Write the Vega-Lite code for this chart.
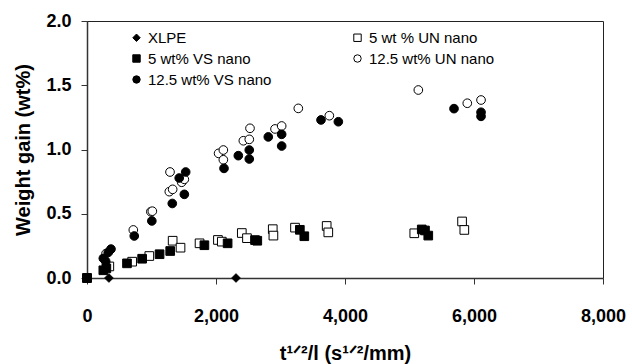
{
  "$schema": "https://vega.github.io/schema/vega-lite/v6.json",
  "autosize": "none",
  "width": 516,
  "height": 257,
  "padding": {"left": 87, "top": 21, "right": 29, "bottom": 86},
  "background": "white",
  "config": {
    "view": {"stroke": "#222", "strokeWidth": 1},
    "font": "Liberation Sans",
    "legend": {
      "title": null,
      "orient": "none",
      "legendX": 42,
      "legendY": 9,
      "columns": 2,
      "columnPadding": 76,
      "rowPadding": 5,
      "padding": 0,
      "gridAlign": "all",
      "labelFont": "Liberation Sans",
      "labelFontSize": 15,
      "labelColor": "black",
      "labelOffset": 4,
      "symbolSize": 55,
      "symbolStrokeWidth": 1
    }
  },
  "data": {
    "values": [
      {"series": "XLPE", "x": 0, "y": 0},
      {"series": "XLPE", "x": 340, "y": 0},
      {"series": "XLPE", "x": 2310, "y": 0},

      {"series": "5 wt % UN nano", "x": 0, "y": 0},
      {"series": "5 wt % UN nano", "x": 346, "y": 0.09},
      {"series": "5 wt % UN nano", "x": 700, "y": 0.127},
      {"series": "5 wt % UN nano", "x": 966, "y": 0.171},
      {"series": "5 wt % UN nano", "x": 1328, "y": 0.29},
      {"series": "5 wt % UN nano", "x": 1450, "y": 0.236},
      {"series": "5 wt % UN nano", "x": 1745, "y": 0.27},
      {"series": "5 wt % UN nano", "x": 2030, "y": 0.296},
      {"series": "5 wt % UN nano", "x": 2090, "y": 0.283},
      {"series": "5 wt % UN nano", "x": 2400, "y": 0.35},
      {"series": "5 wt % UN nano", "x": 2480, "y": 0.31},
      {"series": "5 wt % UN nano", "x": 2880, "y": 0.38},
      {"series": "5 wt % UN nano", "x": 2890, "y": 0.33},
      {"series": "5 wt % UN nano", "x": 3225, "y": 0.392},
      {"series": "5 wt % UN nano", "x": 3716, "y": 0.405},
      {"series": "5 wt % UN nano", "x": 3741, "y": 0.355},
      {"series": "5 wt % UN nano", "x": 5074, "y": 0.348},
      {"series": "5 wt % UN nano", "x": 5815, "y": 0.44},
      {"series": "5 wt % UN nano", "x": 5850, "y": 0.374},

      {"series": "5 wt% VS nano", "x": 0, "y": 0},
      {"series": "5 wt% VS nano", "x": 253, "y": 0.06},
      {"series": "5 wt% VS nano", "x": 300, "y": 0.075},
      {"series": "5 wt% VS nano", "x": 620, "y": 0.114},
      {"series": "5 wt% VS nano", "x": 855, "y": 0.15},
      {"series": "5 wt% VS nano", "x": 1125, "y": 0.185},
      {"series": "5 wt% VS nano", "x": 1290, "y": 0.21},
      {"series": "5 wt% VS nano", "x": 1820, "y": 0.255},
      {"series": "5 wt% VS nano", "x": 2180, "y": 0.27},
      {"series": "5 wt% VS nano", "x": 2605, "y": 0.295},
      {"series": "5 wt% VS nano", "x": 2640, "y": 0.29},
      {"series": "5 wt% VS nano", "x": 3300, "y": 0.375},
      {"series": "5 wt% VS nano", "x": 3369, "y": 0.325},
      {"series": "5 wt% VS nano", "x": 5190, "y": 0.378},
      {"series": "5 wt% VS nano", "x": 5240, "y": 0.37},
      {"series": "5 wt% VS nano", "x": 5291, "y": 0.33},

      {"series": "12.5 wt% UN nano", "x": 0, "y": 0},
      {"series": "12.5 wt% UN nano", "x": 295, "y": 0.19},
      {"series": "12.5 wt% UN nano", "x": 718, "y": 0.374},
      {"series": "12.5 wt% UN nano", "x": 990, "y": 0.516},
      {"series": "12.5 wt% UN nano", "x": 1013, "y": 0.52},
      {"series": "12.5 wt% UN nano", "x": 1287, "y": 0.825},
      {"series": "12.5 wt% UN nano", "x": 1276, "y": 0.672},
      {"series": "12.5 wt% UN nano", "x": 1328, "y": 0.69},
      {"series": "12.5 wt% UN nano", "x": 1468, "y": 0.745},
      {"series": "12.5 wt% UN nano", "x": 1509, "y": 0.768},
      {"series": "12.5 wt% UN nano", "x": 2040, "y": 0.97},
      {"series": "12.5 wt% UN nano", "x": 2114, "y": 0.996},
      {"series": "12.5 wt% UN nano", "x": 2114, "y": 0.92},
      {"series": "12.5 wt% UN nano", "x": 2424, "y": 1.068},
      {"series": "12.5 wt% UN nano", "x": 2516, "y": 1.079},
      {"series": "12.5 wt% UN nano", "x": 2527, "y": 1.165},
      {"series": "12.5 wt% UN nano", "x": 2915, "y": 1.16},
      {"series": "12.5 wt% UN nano", "x": 3018, "y": 1.183},
      {"series": "12.5 wt% UN nano", "x": 3276, "y": 1.32},
      {"series": "12.5 wt% UN nano", "x": 3757, "y": 1.263},
      {"series": "12.5 wt% UN nano", "x": 5137, "y": 1.463},
      {"series": "12.5 wt% UN nano", "x": 5896, "y": 1.36},
      {"series": "12.5 wt% UN nano", "x": 6109, "y": 1.385},

      {"series": "12.5 wt% VS nano", "x": 0, "y": 0},
      {"series": "12.5 wt% VS nano", "x": 253, "y": 0.153},
      {"series": "12.5 wt% VS nano", "x": 290, "y": 0.13},
      {"series": "12.5 wt% VS nano", "x": 330, "y": 0.2},
      {"series": "12.5 wt% VS nano", "x": 372, "y": 0.225},
      {"series": "12.5 wt% VS nano", "x": 733, "y": 0.327},
      {"series": "12.5 wt% VS nano", "x": 1005, "y": 0.444},
      {"series": "12.5 wt% VS nano", "x": 1322, "y": 0.58},
      {"series": "12.5 wt% VS nano", "x": 1430, "y": 0.778},
      {"series": "12.5 wt% VS nano", "x": 1530, "y": 0.825},
      {"series": "12.5 wt% VS nano", "x": 1509, "y": 0.651},
      {"series": "12.5 wt% VS nano", "x": 2124, "y": 0.853},
      {"series": "12.5 wt% VS nano", "x": 2346, "y": 0.952},
      {"series": "12.5 wt% VS nano", "x": 2516, "y": 0.996},
      {"series": "12.5 wt% VS nano", "x": 2516, "y": 0.926},
      {"series": "12.5 wt% VS nano", "x": 2811, "y": 1.098},
      {"series": "12.5 wt% VS nano", "x": 3018, "y": 1.118},
      {"series": "12.5 wt% VS nano", "x": 3018, "y": 1.027},
      {"series": "12.5 wt% VS nano", "x": 3628, "y": 1.23},
      {"series": "12.5 wt% VS nano", "x": 3897, "y": 1.216},
      {"series": "12.5 wt% VS nano", "x": 5690, "y": 1.318},
      {"series": "12.5 wt% VS nano", "x": 6109, "y": 1.29},
      {"series": "12.5 wt% VS nano", "x": 6109, "y": 1.258}
    ]
  },
  "mark": {"type": "point", "filled": true, "strokeWidth": 1, "size": 75, "opacity": 1},
  "encoding": {
    "x": {
      "field": "x",
      "type": "quantitative",
      "scale": {"domain": [0, 8000], "nice": false},
      "axis": {
        "title": "t¹ᐟ²/l (s¹ᐟ²/mm)",
        "values": [0, 2000, 4000, 6000, 8000],
        "format": ",.0f",
        "grid": false,
        "domainColor": "#333",
        "domainWidth": 1.5,
        "tickColor": "#333",
        "tickWidth": 1,
        "tickSize": 6,
        "labelFont": "Liberation Sans",
        "labelFontWeight": "bold",
        "labelFontSize": 18,
        "labelColor": "black",
        "labelPadding": 23,
        "labelFlush": false,
        "titleFont": "Liberation Sans",
        "titleFontWeight": "bold",
        "titleFontSize": 20,
        "titleColor": "black",
        "titlePadding": 18
      }
    },
    "y": {
      "field": "y",
      "type": "quantitative",
      "scale": {"domain": [0, 2], "nice": false},
      "axis": {
        "title": "Weight gain (wt%)",
        "values": [0, 0.5, 1, 1.5, 2],
        "format": ".1f",
        "grid": false,
        "domainColor": "#333",
        "domainWidth": 1.5,
        "tickColor": "#333",
        "tickWidth": 1,
        "tickSize": 6,
        "labelFont": "Liberation Sans",
        "labelFontWeight": "bold",
        "labelFontSize": 18,
        "labelColor": "black",
        "labelPadding": 10,
        "labelFlush": false,
        "titleFont": "Liberation Sans",
        "titleFontWeight": "bold",
        "titleFontSize": 20,
        "titleColor": "black",
        "titlePadding": 12
      }
    },
    "shape": {
      "field": "series",
      "type": "nominal",
      "scale": {
        "domain": ["XLPE", "5 wt% VS nano", "12.5 wt% VS nano", "5 wt % UN nano", "12.5 wt% UN nano"],
        "range": ["diamond", "square", "circle", "square", "circle"]
      }
    },
    "fill": {
      "field": "series",
      "type": "nominal",
      "scale": {
        "domain": ["XLPE", "5 wt% VS nano", "12.5 wt% VS nano", "5 wt % UN nano", "12.5 wt% UN nano"],
        "range": ["black", "black", "black", "white", "white"]
      }
    },
    "stroke": {
      "field": "series",
      "type": "nominal",
      "scale": {
        "domain": ["XLPE", "5 wt% VS nano", "12.5 wt% VS nano", "5 wt % UN nano", "12.5 wt% UN nano"],
        "range": ["black", "black", "black", "black", "black"]
      }
    }
  }
}
